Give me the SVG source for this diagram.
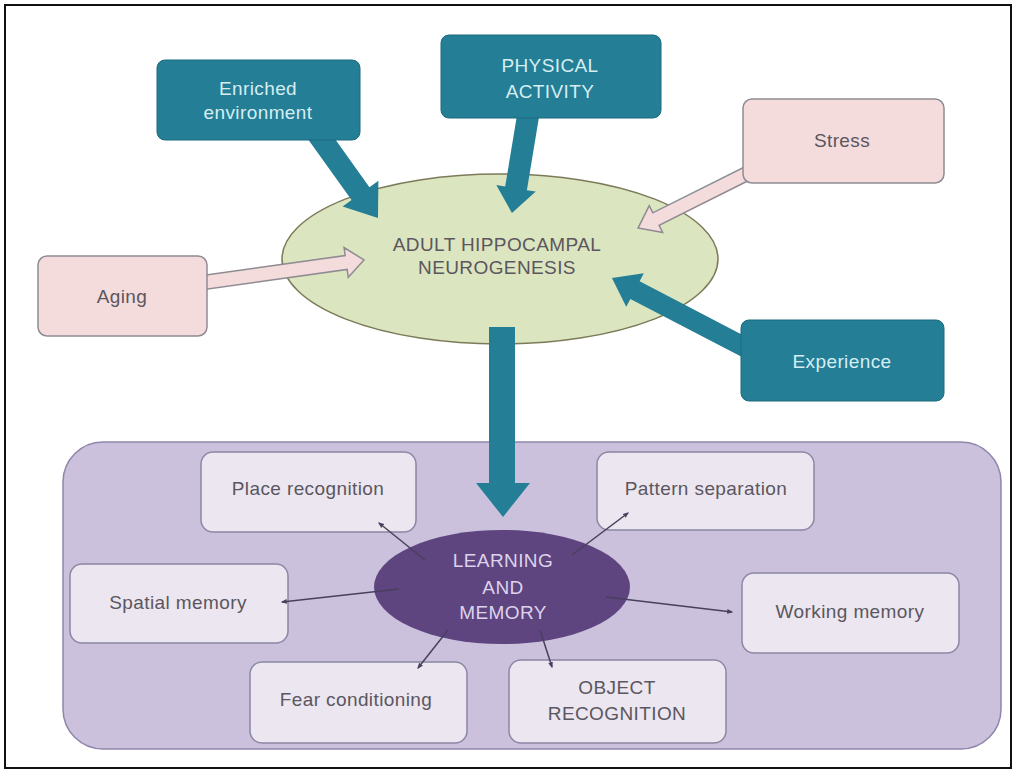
<svg xmlns="http://www.w3.org/2000/svg" width="1016" height="776" viewBox="0 0 1016 776">
<defs>
<marker id="dot" viewBox="0 0 10 10" refX="8" refY="5" markerWidth="6" markerHeight="6" orient="auto" markerUnits="userSpaceOnUse">
<path d="M0,1 L10,5 L0,9 Z" fill="#4a3f5c"/>
</marker>
<style>
text{font-family:"Liberation Sans",Arial,sans-serif;font-size:19px;text-anchor:middle;letter-spacing:0.4px}
.teal{fill:#237e96}
.tealbox{fill:#237e96;stroke:#1d6a7e;stroke-width:1}
.wt{fill:#d6edf2}
.pink{fill:#f4dcdc;stroke:#8f8b93;stroke-width:1.5}
.gt{fill:#5b5660}
.inner{fill:#ebe6ef;stroke:#8c87a4;stroke-width:1.5}
.thin{stroke:#4a3f5c;stroke-width:1.5;fill:none;marker-end:url(#dot)}
</style>
</defs>
<rect x="0" y="0" width="1016" height="776" fill="#ffffff"/>
<rect x="5" y="5" width="1006" height="763" fill="none" stroke="#111" stroke-width="2"/>

<g id="neurogenesis">
<ellipse cx="500" cy="259" rx="218" ry="85" fill="#dbe5bf" stroke="#7d7a5a" stroke-width="1.5"/>
<text x="497" y="251" class="gt">ADULT HIPPOCAMPAL</text>
<text x="497" y="274" class="gt">NEUROGENESIS</text>
</g>

<g id="learning-bg">
<rect x="63" y="442" width="938" height="307" rx="40" fill="#cbc1dc" stroke="#8f86ab" stroke-width="1.5"/>
</g>

<g id="place-recognition"><rect class="inner" x="201" y="452" width="215" height="80" rx="12"/><text x="308" y="495" class="gt">Place recognition</text></g>
<g id="pattern-separation"><rect class="inner" x="597" y="452" width="217" height="78" rx="12"/><text x="706" y="495" class="gt">Pattern separation</text></g>
<g id="spatial-memory"><rect class="inner" x="70" y="564" width="218" height="79" rx="12"/><text x="178" y="609" class="gt">Spatial memory</text></g>
<g id="working-memory"><rect class="inner" x="742" y="573" width="217" height="80" rx="12"/><text x="850" y="618" class="gt">Working memory</text></g>
<g id="fear-conditioning"><rect class="inner" x="250" y="662" width="217" height="81" rx="12"/><text x="356" y="706" class="gt">Fear conditioning</text></g>
<g id="object-recognition"><rect class="inner" x="509" y="660" width="217" height="83" rx="12"/><text x="617" y="694" class="gt">OBJECT</text><text x="617" y="720" class="gt">RECOGNITION</text></g>

<g id="learning-memory">
<ellipse cx="502" cy="587" rx="128" ry="57" fill="#5e4580"/>
<text x="503" y="567" fill="#ddd3ea">LEARNING</text>
<text x="503" y="594" fill="#ddd3ea">AND</text>
<text x="503" y="619" fill="#ddd3ea">MEMORY</text>
</g>

<g id="connectors">
<line class="thin" x1="425" y1="560" x2="379" y2="523"/>
<line class="thin" x1="572" y1="555" x2="628" y2="513"/>
<line class="thin" x1="399" y1="589" x2="282" y2="602"/>
<line class="thin" x1="606" y1="597" x2="732" y2="612"/>
<line class="thin" x1="448" y1="630" x2="418" y2="668"/>
<line class="thin" x1="540" y1="630" x2="552" y2="667"/>
<polygon class="teal" points="489,327 515,327 515,483 530,483 503,517 476,483 489,483"/>
<g transform="translate(315,130) rotate(54.4)"><polygon class="teal" points="0,-11 78.2,-11 78.2,-22 108.2,0 78.2,22 78.2,11 0,11"/></g>
<g transform="translate(529,110) rotate(99.4)"><polygon class="teal" points="0,-11 79.4,-11 79.4,-20 104.4,0 79.4,20 79.4,11 0,11"/></g>
<g transform="translate(750,172) rotate(153.4)"><polygon class="pink" points="0,-7 105.2,-7 105.2,-15 125.2,0 105.2,15 105.2,7 0,7"/></g>
<g transform="translate(200,283) rotate(-8)"><polygon class="pink" points="0,-7 147.6,-7 147.6,-15 165.6,0 147.6,15 147.6,7 0,7"/></g>
<g transform="translate(750,350) rotate(-152.45)"><polygon class="teal" points="0,-10 129.7,-10 129.7,-19 155.7,0 129.7,19 129.7,10 0,10"/></g>
</g>

<g id="enriched-environment"><rect class="tealbox" x="157" y="60" width="203" height="80" rx="8"/><text x="258" y="95" class="wt">Enriched</text><text x="258" y="119" class="wt">environment</text></g>
<g id="physical-activity"><rect class="tealbox" x="441" y="35" width="220" height="83" rx="8"/><text x="550" y="72" class="wt">PHYSICAL</text><text x="550" y="98" class="wt">ACTIVITY</text></g>
<g id="stress"><rect class="pink" x="743" y="99" width="201" height="84" rx="9"/><text x="842" y="147" class="gt">Stress</text></g>
<g id="aging"><rect class="pink" x="38" y="256" width="169" height="80" rx="9"/><text x="122" y="303" class="gt">Aging</text></g>
<g id="experience"><rect class="tealbox" x="741" y="320" width="203" height="81" rx="8"/><text x="842" y="368" class="wt">Experience</text></g>
</svg>
